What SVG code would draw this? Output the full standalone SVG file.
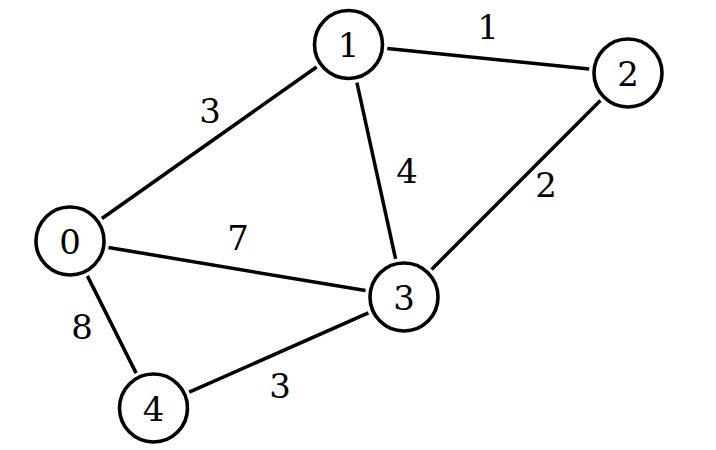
<svg xmlns="http://www.w3.org/2000/svg" width="716" height="450" viewBox="0 0 716 450">
<style>
.node circle { fill: #ffffff; stroke: #000000; stroke-width: 3.6; }
.lbl { font-family: 'DejaVu Serif', serif; font-size: 34px; fill: #000000; text-anchor: middle; }
#edges line { stroke: #000000; stroke-width: 3.5; stroke-linecap: butt; }
</style>
<rect width="716" height="450" fill="#ffffff"/>
<g id="edges">
  <line x1="101.9" y1="218.5" x2="316.6" y2="67.0"/>
  <line x1="387.3" y1="48.5" x2="589.2" y2="69.0"/>
  <line x1="356.9" y1="82.6" x2="395.6" y2="258.9"/>
  <line x1="600.4" y1="100.6" x2="431.6" y2="269.4"/>
  <line x1="108.5" y1="247.5" x2="365.5" y2="290.6"/>
  <line x1="87.4" y1="275.9" x2="136.1" y2="373.1"/>
  <line x1="368.4" y1="312.8" x2="189.2" y2="392.2"/>
  <text class="lbl" x="210" y="122.5">3</text>
  <text class="lbl" x="488" y="38.5">1</text>
  <text class="lbl" x="407" y="182.5">4</text>
  <text class="lbl" x="546" y="196.5">2</text>
  <text class="lbl" x="238" y="249.5">7</text>
  <text class="lbl" x="82" y="338.5">8</text>
  <text class="lbl" x="280" y="397.5">3</text>
</g>
<g id="node0" class="node"><circle cx="70" cy="241" r="34"/><text class="lbl" x="70" y="253.5">0</text></g>
<g id="node1" class="node"><circle cx="348.5" cy="44.5" r="34"/><text class="lbl" x="348.5" y="57">1</text></g>
<g id="node2" class="node"><circle cx="628" cy="73" r="34"/><text class="lbl" x="628" y="85.5">2</text></g>
<g id="node3" class="node"><circle cx="404" cy="297" r="34"/><text class="lbl" x="404" y="309.5">3</text></g>
<g id="node4" class="node"><circle cx="153.5" cy="408" r="34"/><text class="lbl" x="153.5" y="420.5">4</text></g>
</svg>
